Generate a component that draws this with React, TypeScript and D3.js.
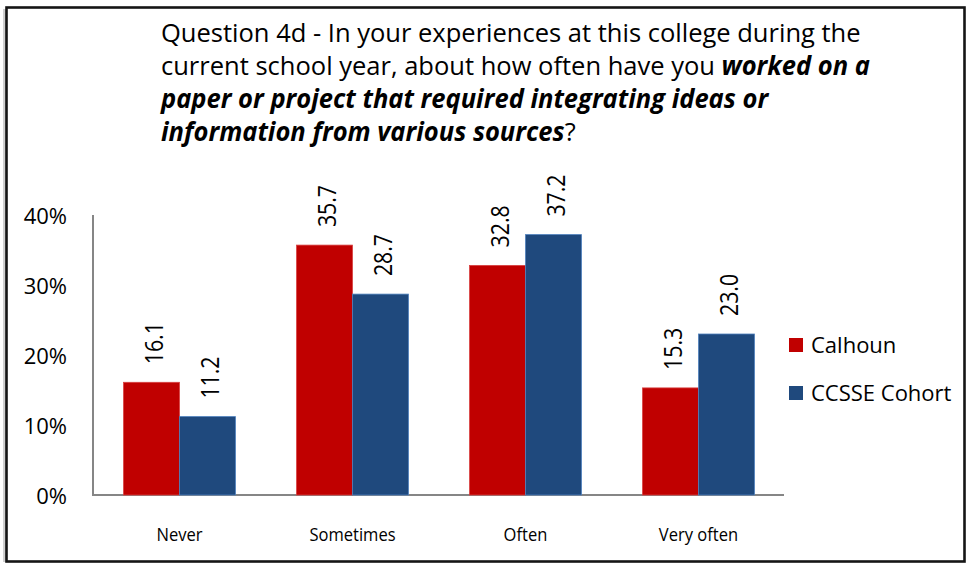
import React, { useLayoutEffect, useRef, useState } from "react";
import * as d3 from "d3";

const categories = ["Never", "Sometimes", "Often", "Very often"];
const seriesNames = ["Calhoun", "CCSSE Cohort"];
const calhoun = [16.1, 35.7, 32.8, 15.3];
const cohort = [11.2, 28.7, 37.2, 23.0];
const yTicks = [0, 10, 20, 30, 40];
const colors = ["#C00000", "#1F497D"];
const strokes = ["#D84040", "#4F81BD"];

const W = 968;
const H = 565;
const FONT = "'Open Sans', 'Noto Sans', sans-serif";

export default function App() {
  const line1Ref = useRef<SVGTextElement>(null);
  const [sx, setSx] = useState(1);

  useLayoutEffect(() => {
    if (line1Ref.current) {
      const w = line1Ref.current.getComputedTextLength();
      if (w > 0) setSx(700 / w);
    }
  }, []);

  const x0 = d3.scaleBand<string>().domain(categories).range([93, 785]).paddingInner(0.353).paddingOuter(0.1765);
  const x1 = d3.scaleBand<number>().domain([0, 1]).range([0, x0.bandwidth()]);
  const y = d3.scaleLinear().domain([0, 40]).range([495, 215]);
  const series = [calhoun, cohort];

  const titleX = 161;
  const bi = { fontWeight: 700, fontStyle: "italic" as const };

  return (
    <svg width={W} height={H} style={{ position: "absolute", left: 0, top: 0, background: "#fff" }}>
      <rect x={0} y={0} width={W} height={H} fill="#fff" />
      <rect x={3} y={9} width={4} height={553} fill="#d0d0d0" />
      <rect x={6.5} y={7.5} width={958} height={554} fill="none" stroke="#151515" strokeWidth={2.6} />

      <g transform={`translate(${titleX},0) scale(${sx},1)`} fontFamily={FONT} fontSize={26} fill="#000">
        <text ref={line1Ref} x={0} y={42}>Question 4d - In your experiences at this college during the</text>
        <text x={0} y={75}>
          current school year, about how often have you <tspan {...bi}>worked on a</tspan>
        </text>
        <text x={0} y={108} {...bi}>paper or project that required integrating ideas or</text>
        <text x={0} y={141}>
          <tspan {...bi}>information from various sources</tspan>?
        </text>
      </g>

      <line x1={93} x2={93} y1={y(40)} y2={y(0)} stroke="#868686" strokeWidth={2} />
      <line x1={92} x2={784} y1={y(0)} y2={y(0)} stroke="#868686" strokeWidth={2} />
      {yTicks.map((t) => (
        <text key={t} x={67} y={y(t)} textAnchor="end" dominantBaseline="central" fontFamily={FONT} fontSize={22} fill="#000">
          {t}%
        </text>
      ))}

      {categories.map((c, i) => (
        <g key={c} transform={`translate(${x0(c)},0)`}>
          {series.map((s, k) => {
            const bx = x1(k)!;
            const bw = x1.bandwidth();
            const top = y(s[i]);
            return (
              <g key={k}>
                <rect x={bx} y={top} width={bw} height={y(0) - top} fill={colors[k]} stroke={strokes[k]} strokeWidth={0.8} />
                <text
                  transform={`translate(${bx + bw / 2 + 2},${top - 18}) rotate(-90) scale(0.82,1)`}
                  textAnchor="start"
                  dominantBaseline="central"
                  fontFamily={FONT}
                  fontSize={26}
                  fill="#000"
                >
                  {s[i].toFixed(1)}
                </text>
              </g>
            );
          })}
          <text x={x0.bandwidth() / 2} y={541} textAnchor="middle" fontFamily={FONT} fontSize={18} fill="#000" transform={`translate(${x0.bandwidth() / 2},0) scale(0.92,1) translate(${-x0.bandwidth() / 2},0)`}>
            {c}
          </text>
        </g>
      ))}

      {seriesNames.map((n, k) => (
        <g key={n} transform={`translate(789,${338 + k * 48})`}>
          <rect x={0} y={0} width={14} height={14} fill={colors[k]} />
          <text x={22} y={15} fontFamily={FONT} fontSize={22} fill="#000">
            {n}
          </text>
        </g>
      ))}
    </svg>
  );
}
